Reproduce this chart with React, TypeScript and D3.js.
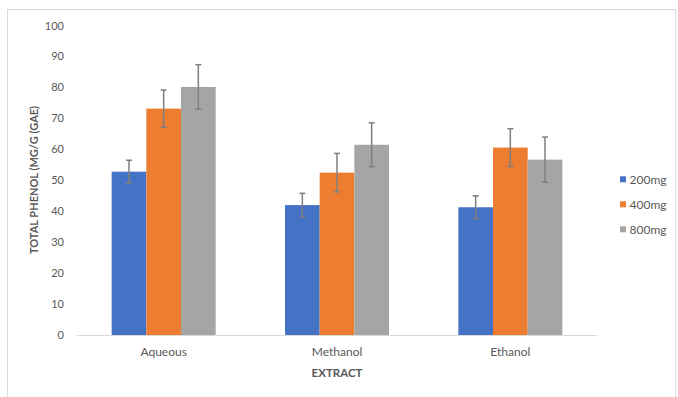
import React from "react";
import * as d3 from "d3";

const categories = ["Aqueous", "Methanol", "Ethanol"];
const seriesNames = ["200mg", "400mg", "800mg"];
const values200 = [52.8, 42.0, 41.3];
const values400 = [73.2, 52.5, 60.6];
const values800 = [80.2, 61.5, 56.7];
const errors200 = [3.7, 3.8, 3.7];
const errors400 = [6.0, 6.2, 6.1];
const errors800 = [7.2, 7.1, 7.3];
const yTicks = [0, 10, 20, 30, 40, 50, 60, 70, 80, 90, 100];
const colors = ["#4472C4", "#ED7D31", "#A5A5A5"];

const W = 678;
const H = 397;
const FONT = "Lato, 'Open Sans', sans-serif";

export default function App() {
  const x0 = 77;
  const x1 = 597;
  const yBottom = 335;
  const yTop = 25.7;

  const x = d3.scaleBand<string>().domain(categories).range([x0, x1]).padding(0);
  const groupW = x.bandwidth() * 0.6;
  const xs = d3.scaleBand<string>().domain(seriesNames).range([0, groupW]).padding(0);
  const y = d3.scaleLinear().domain([0, 100]).range([yBottom, yTop]);

  const vals = [values200, values400, values800];
  const errs = [errors200, errors400, errors800];

  return (
    <div style={{ position: "fixed", left: 0, top: 0, width: W, height: H, background: "#fff" }}>
      <svg width={W} height={H} style={{ display: "block" }}>
        <rect x={0} y={0} width={W} height={H} fill="#fff" />
        <rect x={7.5} y={9.5} width={668} height={H} fill="none" stroke="#d9d9d9" strokeWidth={1} />

        {yTicks.map((t) => (
          <text key={t} x={64} y={y(t)} dy="0.35em" textAnchor="end" fontFamily={FONT} fontSize={11} fill="#595959">
            {t}
          </text>
        ))}

        {categories.map((c, ci) => {
          const gx = (x(c) as number) + (x.bandwidth() - groupW) / 2;
          return (
            <g key={c}>
              {seriesNames.map((s, si) => {
                const v = vals[si][ci];
                const bx = gx + (xs(s) as number);
                return (
                  <rect key={s} x={bx} y={y(v)} width={xs.bandwidth()} height={yBottom - y(v)} fill={colors[si]} />
                );
              })}
            </g>
          );
        })}

        <line x1={x0} x2={x1} y1={yBottom + 0.5} y2={yBottom + 0.5} stroke="#d9d9d9" strokeWidth={1} />

        {categories.map((c, ci) => {
          const gx = (x(c) as number) + (x.bandwidth() - groupW) / 2;
          return (
            <g key={c + "e"}>
              {seriesNames.map((s, si) => {
                const v = vals[si][ci];
                const e = errs[si][ci];
                const cx = gx + (xs(s) as number) + xs.bandwidth() / 2;
                return (
                  <g key={s} stroke="#7f7f7f" strokeWidth={1.5}>
                    <line x1={cx} x2={cx} y1={y(v + e)} y2={y(v - e)} />
                    <line x1={cx - 3} x2={cx + 3} y1={y(v + e)} y2={y(v + e)} />
                    <line x1={cx - 3} x2={cx + 3} y1={y(v - e)} y2={y(v - e)} />
                  </g>
                );
              })}
            </g>
          );
        })}

        {categories.map((c) => (
          <text key={c} x={(x(c) as number) + x.bandwidth() / 2} y={352} dy="0.35em" textAnchor="middle" fontFamily={FONT} fontSize={12} fill="#595959">
            {c}
          </text>
        ))}

        <text x={337} y={373} dy="0.35em" textAnchor="middle" fontFamily={FONT} fontSize={11.5} fontWeight="bold" fill="#595959">
          EXTRACT
        </text>

        <text transform={`translate(34,180) rotate(-90)`} dy="0.35em" textAnchor="middle" fontFamily={FONT} fontSize={11} fontWeight="bold" fill="#595959">
          TOTAL PHENOL (MG/G (GAE)
        </text>

        {seriesNames.map((s, i) => (
          <g key={s} transform={`translate(620, ${179.3 + i * 25})`}>
            <rect x={0} y={-3} width={6} height={6} fill={colors[i]} />
            <text x={9.5} y={0} dy="0.35em" fontFamily={FONT} fontSize={12} fill="#595959">
              {s}
            </text>
          </g>
        ))}
      </svg>
    </div>
  );
}
